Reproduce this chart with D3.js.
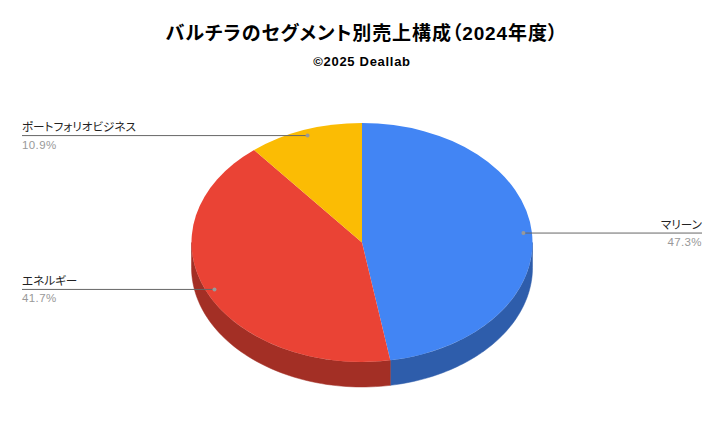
<!DOCTYPE html>
<html>
<head>
<meta charset="utf-8">
<script src="https://cdn.jsdelivr.net/npm/d3@7"></script>
<style>
  html, body { margin: 0; padding: 0; background: #fff; }
  text { font-family: "Liberation Sans", "Noto Sans CJK JP", sans-serif; font-feature-settings: "palt"; }
</style>
</head>
<body>
<div id="chart"></div>
<script>
const categories = ["マリーン", "エネルギー", "ポートフォリオビジネス"];
const shares = [47.3, 41.7, 10.9];
const shareLabels = ["47.3%", "41.7%", "10.9%"];
const topColors = ["#4285f4", "#ea4335", "#fbbc04"];
const sideColors = ["#2e5dab", "#a32f25", "#b08403"];

const width = 724, height = 448;
const cx = 362, cy = 242.5, rx = 170.5, ry = 119.5, depth = 25;

const svg = d3.select("#chart").append("svg")
    .attr("width", width)
    .attr("height", height)
    .style("display", "block");

svg.append("text")
    .attr("x", 362).attr("y", 40)
    .attr("text-anchor", "middle")
    .attr("font-size", 19).attr("font-weight", "bold").attr("fill", "#000")
    .attr("letter-spacing", 0.9)
    .text("バルチラのセグメント別売上構成（2024年度）");

svg.append("text")
    .attr("x", 362).attr("y", 66)
    .attr("text-anchor", "middle")
    .attr("font-size", 13).attr("font-weight", "bold").attr("fill", "#000")
    .attr("letter-spacing", 0.7)
    .text("©2025 Deallab");

const pie = d3.pie().sort(null)(shares);

const px = a => cx + rx * Math.sin(a);
const py = a => cy - ry * Math.cos(a);

// side wall: only the front half of the ellipse is visible
const wallPath = (a0, a1) => {
  const s = Math.max(a0, Math.PI / 2), e = Math.min(a1, Math.PI * 1.5);
  if (s >= e) return null;
  const p = d3.path();
  p.moveTo(px(s), py(s));
  p.lineTo(px(s), py(s) + depth);
  const ang = d3.range(0, 61).map(i => s + (e - s) * i / 60);
  ang.forEach(a => p.lineTo(px(a), py(a) + depth));
  p.lineTo(px(e), py(e));
  ang.slice().reverse().forEach(a => p.lineTo(px(a), py(a)));
  p.closePath();
  return p.toString();
};

svg.append("g").selectAll("path")
  .data(pie.filter(d => wallPath(d.startAngle, d.endAngle)))
  .join("path")
    .attr("d", d => wallPath(d.startAngle, d.endAngle))
    .attr("fill", d => sideColors[d.index])
    .attr("stroke", d => sideColors[d.index])
    .attr("stroke-width", 0.5);

// top face, drawn as a circle and squashed into the ellipse
const arc = d3.arc().innerRadius(0).outerRadius(rx);
svg.append("g")
    .attr("transform", `translate(${cx},${cy}) scale(1,${ry / rx})`)
  .selectAll("path")
  .data(pie)
  .join("path")
    .attr("d", arc)
    .attr("fill", d => topColors[d.index]);

// leader lines
const labelPos = [
  { side: "right", x: 702 },
  { side: "left", x: 22 },
  { side: "left", x: 22 }
];
const dotFrac = 0.95;

pie.forEach(d => {
  const mid = (d.startAngle + d.endAngle) / 2;
  const dx = cx + rx * dotFrac * Math.sin(mid);
  const dy = cy - ry * dotFrac * Math.cos(mid);
  const lp = labelPos[d.index];
  const anchor = lp.side === "right" ? "end" : "start";

  svg.append("line")
      .attr("x1", lp.x).attr("x2", dx)
      .attr("y1", dy).attr("y2", dy)
      .attr("stroke", "#666").attr("stroke-width", 1);
  svg.append("circle")
      .attr("cx", dx).attr("cy", dy).attr("r", 2)
      .attr("fill", "#999");
  svg.append("text")
      .attr("x", lp.x).attr("y", dy - 4.5)
      .attr("text-anchor", anchor)
      .attr("font-size", 11.6).attr("fill", "#222")
      .text(categories[d.index]);
  svg.append("text")
      .attr("x", lp.x).attr("y", dy + 13)
      .attr("text-anchor", anchor)
      .attr("font-size", 11.5).attr("fill", "#999")
      .attr("letter-spacing", 0.4)
      .text(shareLabels[d.index]);
});
</script>
</body>
</html>
